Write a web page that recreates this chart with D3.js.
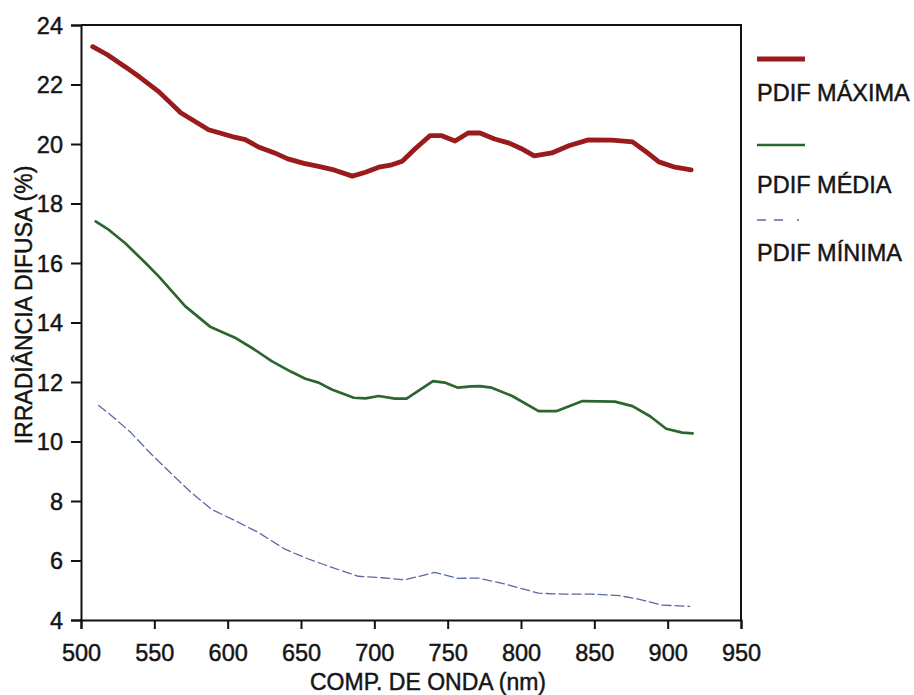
<!DOCTYPE html>
<html>
<head>
<meta charset="utf-8">
<script src="https://cdn.jsdelivr.net/npm/d3@7"></script>
<style>
  html, body { margin: 0; padding: 0; background: #fff; }
  svg { display: block; }
  text { font-family: "Liberation Sans", Arial, sans-serif; fill: #151515; stroke: #151515; stroke-width: 0.45px; }
</style>
</head>
<body>
<svg id="chart" width="914" height="695"></svg>
<script>
// Wavelength (nm) and diffuse irradiance (%) for each PDIF series
const maxWl = [508, 518, 530, 540, 553, 568, 587, 603, 612, 621, 632, 641, 652, 662, 673, 685, 694, 703, 712, 719, 728, 738, 746, 755, 764, 772, 782, 792, 800, 809, 821, 833, 846, 862, 876, 885, 894, 905, 916];
const maxVal = [23.27, 23.0, 22.6, 22.25, 21.76, 21.05, 20.48, 20.25, 20.15, 19.9, 19.7, 19.5, 19.35, 19.25, 19.12, 18.92, 19.05, 19.22, 19.3, 19.42, 19.85, 20.28, 20.28, 20.1, 20.37, 20.37, 20.17, 20.03, 19.85, 19.6, 19.7, 19.95, 20.14, 20.13, 20.07, 19.75, 19.4, 19.22, 19.13];

const medWl = [510, 518, 530, 544, 553, 571, 588, 605, 618, 630, 643, 653, 662, 671, 686, 694, 703, 714, 722, 740, 748, 757, 766, 772, 780, 794, 812, 824, 842, 864, 876, 888, 899, 910, 917];
const medVal = [17.4, 17.15, 16.67, 16.0, 15.55, 14.55, 13.86, 13.49, 13.1, 12.7, 12.35, 12.11, 11.98, 11.75, 11.47, 11.45, 11.53, 11.44, 11.44, 12.03, 11.98, 11.81, 11.85, 11.86, 11.81, 11.53, 11.02, 11.02, 11.36, 11.34, 11.19, 10.85, 10.43, 10.3, 10.27];

const minWl = [512, 521, 534, 548, 562, 575, 589, 603, 621, 639, 655, 671, 689, 705, 721, 741, 757, 771, 789, 812, 830, 848, 867, 880, 896, 915];
const minVal = [11.21, 10.86, 10.3, 9.57, 8.9, 8.29, 7.72, 7.39, 6.94, 6.38, 6.05, 5.77, 5.47, 5.42, 5.35, 5.6, 5.4, 5.41, 5.21, 4.9, 4.87, 4.87, 4.82, 4.7, 4.5, 4.46];

const xTicks = [500, 550, 600, 650, 700, 750, 800, 850, 900, 950];
const yTicks = [4, 6, 8, 10, 12, 14, 16, 18, 20, 22, 24];
const seriesNames = ["PDIF MÁXIMA", "PDIF MÉDIA", "PDIF MÍNIMA"];

const svg = d3.select("#chart");
const plotLeft = 81, plotRight = 741, plotTop = 25, plotBottom = 620;

const x = d3.scaleLinear().domain([500, 950]).range([plotLeft, plotRight]);
const y = d3.scaleLinear().domain([4, 24]).range([plotBottom, plotTop]);

// Frame: top and right borders
svg.append("path")
  .attr("d", `M${plotLeft},${plotTop}H${plotRight}V${plotBottom}`)
  .attr("fill", "none").attr("stroke", "#111").attr("stroke-width", 2);

// Axes
const xAxis = svg.append("g")
  .attr("transform", `translate(0,${plotBottom})`)
  .call(d3.axisBottom(x).tickValues(xTicks).tickFormat(d3.format("d")).tickSize(9).tickPadding(15));
const yAxis = svg.append("g")
  .attr("transform", `translate(${plotLeft},0)`)
  .call(d3.axisLeft(y).tickValues(yTicks).tickFormat(d3.format("d")).tickSize(10).tickPadding(8));

[xAxis, yAxis].forEach(g => {
  g.select(".domain").attr("stroke", "#111").attr("stroke-width", 2);
  g.selectAll(".tick line").attr("stroke", "#111").attr("stroke-width", 2);
  g.selectAll(".tick text")
    .attr("font-family", "'Liberation Sans', Arial, sans-serif")
    .attr("font-size", 23.5).attr("fill", "#151515");
});
yAxis.selectAll(".tick text").attr("dy", "0.36em");

// Axis titles
svg.append("text")
  .attr("x", 428).attr("y", 690)
  .attr("text-anchor", "middle").attr("font-size", 23)
  .text("COMP. DE ONDA (nm)");
svg.append("text")
  .attr("transform", "translate(32,305) rotate(-90)")
  .attr("text-anchor", "middle").attr("font-size", 23)
  .text("IRRADIÂNCIA DIFUSA (%)");

// Series lines
const line = d3.line().x(d => x(d[0])).y(d => y(d[1]));
const styles = [
  { color: "#9a1b1b", width: 4.8, dash: null },
  { color: "#2b6631", width: 2.7, dash: null },
  { color: "#5a68a8", width: 1.3, dash: "9,4" }
];
const series = [
  d3.zip(maxWl, maxVal),
  d3.zip(medWl, medVal),
  d3.zip(minWl, minVal)
];
series.forEach((pts, i) => {
  svg.append("path")
    .datum(pts)
    .attr("d", line)
    .attr("fill", "none")
    .attr("stroke", styles[i].color)
    .attr("stroke-width", styles[i].width)
    .attr("stroke-linejoin", "round")
    .attr("stroke-linecap", "round")
    .attr("stroke-dasharray", styles[i].dash);
});

// Legend
const legendY = [59, 145, 220];
const legendTextY = [101, 193, 261];
seriesNames.forEach((name, i) => {
  svg.append("line")
    .attr("x1", 757).attr("x2", 805)
    .attr("y1", legendY[i]).attr("y2", legendY[i])
    .attr("stroke", styles[i].color)
    .attr("stroke-width", styles[i].width)
    .attr("stroke-dasharray", i === 2 ? "9,8,9,14,2,20" : null);
  svg.append("text")
    .attr("x", 757).attr("y", legendTextY[i])
    .attr("font-size", 23.5)
    .text(name);
});
</script>
</body>
</html>
